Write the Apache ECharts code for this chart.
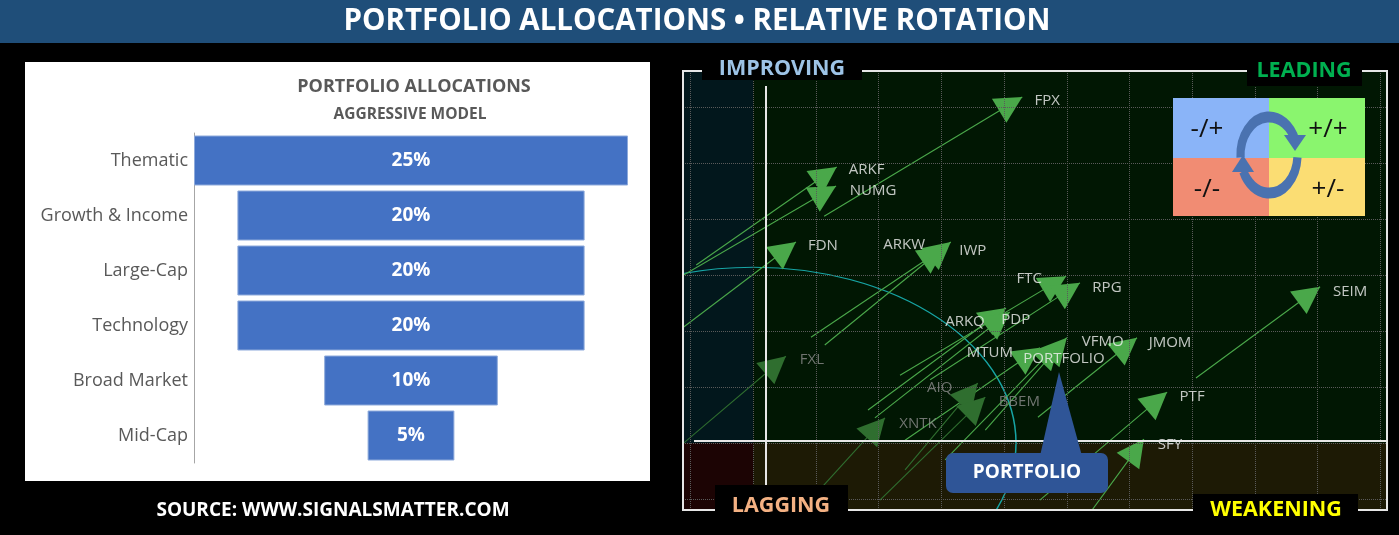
<!DOCTYPE html>
<html>
<head>
<meta charset="utf-8">
<script src="https://cdn.jsdelivr.net/npm/echarts@6/dist/echarts.min.js"></script>
<style>
  html, body { margin: 0; padding: 0; background: #000; }
  #chart { width: 1399px; height: 535px; }
</style>
</head>
<body>
<div id="chart"></div>
<script>
// allocation funnel (left panel)
const allocCategories = ['Thematic', 'Growth & Income', 'Large-Cap', 'Technology', 'Broad Market', 'Mid-Cap'];
const allocValues = [25, 20, 20, 20, 10, 5];

// relative rotation graph (right panel): tail start and head of each arrow, [RS-Ratio, RS-Momentum]
const rrgNames = ['FPX', 'ARKF', 'NUMG', 'FDN', 'ARKW', 'IWP', 'FTC', 'RPG', 'SEIM', 'ARKQ', 'PDP',
  'MTUM', 'PORTFOLIO', 'VFMO', 'JMOM', 'FXL', 'AIQ', 'BBEM', 'XNTK', 'PTF', 'SFY'];
const rrgTails = [
  [101.13, 104.05], [99.09, 103.18], [98.51, 102.75], [98.51, 101.75], [100.92, 101.89], [101.14, 101.75],
  [102.34, 101.21], [102.82, 101.13], [107.06, 101.16], [101.83, 100.59], [101.94, 100.45],
  [102.42, 100.05], [103.06, 99.70], [103.70, 100.23], [104.54, 100.46], [98.67, 99.79],
  [102.42, 99.52], [102.02, 98.98], [100.98, 99.07], [104.57, 98.98], [105.29, 98.63]
];
const rrgHeads = [
  [104.29, 106.18], [101.33, 104.93], [101.32, 104.59], [100.68, 103.59], [103.06, 103.50], [103.15, 103.59],
  [104.99, 102.98], [105.21, 102.86], [109.04, 102.79], [104.03, 102.41], [104.09, 102.34],
  [104.57, 101.70], [104.89, 101.80], [105.00, 101.88], [106.12, 101.88], [100.52, 101.55],
  [103.58, 101.07], [103.70, 100.82], [102.10, 100.45], [106.60, 100.91], [106.23, 100.07]
];
const fadedNames = ['FXL', 'AIQ', 'BBEM', 'XNTK'];
const rrgCenter = [100, 100];
const rotationRadius = [4.19, 3.14];
const xTicks = [99, 100, 101, 102, 103, 104, 105, 106, 107, 108, 109, 110];
const yTicks = [99, 100, 101, 102, 103, 104, 105, 106];

// label placement relative to arrow tip (px)
const labelOffsets = {
  FPX: [25, 4], ARKF: [30, 3], NUMG: [37, 5], FDN: [27, 4], ARKW: [-41, -2], IWP: [22, 9],
  FTC: [-37, 3], RPG: [27, 5], SEIM: [30, 5], ARKQ: [-41, 14], PDP: [6, 8], MTUM: [-50, 5],
  PORTFOLIO: [4, 17], VFMO: [36, 4], JMOM: [33, 5], FXL: [26, 4], AIQ: [-38, 5], BBEM: [34, 5],
  XNTK: [33, 6], PTF: [25, 5], SFY: [26, 6]
};

const FONT = 'Open Sans';
const xMin = 98.879, xMax = 110.107, yMin = 98.804, yMax = 106.643;
// arrow head: tip sits at the symbol centre, square bounding box so nothing gets stretched
const headPath = 'path://M0,0 L14,27 L-14,27 Z M-27,-27 L-27,-27 M27,27 L27,27';

function label(x, y, text, fill, font, z) {
  return { type: 'text', z: z || 22, x: x, y: y, style: { text: text, fill: fill, font: font, textAlign: 'center', textVerticalAlign: 'middle' } };
}

// rotation key, top-left corner at (1173, 98)
const keyX = 1173, keyY = 98;
const keyGraphics = [
  { type: 'rect', z: 30, shape: { x: keyX, y: keyY, width: 96, height: 60 }, style: { fill: '#8ab4f8' } },
  { type: 'rect', z: 30, shape: { x: keyX + 96, y: keyY, width: 96, height: 60 }, style: { fill: '#8af56e' } },
  { type: 'rect', z: 30, shape: { x: keyX, y: keyY + 60, width: 96, height: 58 }, style: { fill: '#f18c73' } },
  { type: 'rect', z: 30, shape: { x: keyX + 96, y: keyY + 60, width: 96, height: 58 }, style: { fill: '#fbdd73' } },
  label(keyX + 34, keyY + 32, '-/+', '#111', '26px "Open Sans"', 31),
  label(keyX + 155, keyY + 32, '+/+', '#111', '26px "Open Sans"', 31),
  label(keyX + 34, keyY + 92, '-/-', '#111', '26px "Open Sans"', 31),
  label(keyX + 155, keyY + 92, '+/-', '#111', '26px "Open Sans"', 31),
  { type: 'arc', z: 32, x: keyX + 96, y: keyY + 57, scaleX: 0.75,
    shape: { cx: 0, cy: 0, r: 38, startAngle: Math.PI * 0.98, endAngle: Math.PI * 1.88, clockwise: true },
    style: { stroke: '#4a72b0', lineWidth: 11, fill: 'none' } },
  { type: 'arc', z: 32, x: keyX + 96, y: keyY + 57, scaleX: 0.75,
    shape: { cx: 0, cy: 0, r: 38, startAngle: Math.PI * 0.02, endAngle: Math.PI * 0.86, clockwise: true },
    style: { stroke: '#4a72b0', lineWidth: 11, fill: 'none' } },
  { type: 'polygon', z: 32, shape: { points: [[keyX + 122, keyY + 53], [keyX + 111, keyY + 37], [keyX + 133, keyY + 37]] }, style: { fill: '#4a72b0' } },
  { type: 'polygon', z: 32, shape: { points: [[keyX + 70, keyY + 57], [keyX + 59, keyY + 74], [keyX + 81, keyY + 74]] }, style: { fill: '#4a72b0' } }
];

const chart = echarts.init(document.getElementById('chart'));

const option = {
  backgroundColor: '#000',
  animation: false,
  textStyle: { fontFamily: FONT },
  grid: [
    { left: 194, top: 133, width: 434, height: 330 },
    { left: 683, top: 71, width: 704, height: 439 }
  ],
  xAxis: [
    { gridIndex: 0, type: 'value', min: 0, max: 25, show: false },
    { gridIndex: 1, type: 'value', min: xMin, max: xMax, show: false }
  ],
  yAxis: [
    {
      gridIndex: 0, type: 'category', inverse: true, data: allocCategories,
      axisLine: { show: true, lineStyle: { color: '#a6a6a6', width: 1 } },
      axisTick: { show: false },
      axisLabel: { color: '#595959', fontSize: 18, margin: 6, fontFamily: FONT }
    },
    { gridIndex: 1, type: 'value', min: yMin, max: yMax, show: false }
  ],
  graphic: [
    // title bar
    { type: 'rect', z: 0, shape: { x: 0, y: 0, width: 1399, height: 43 }, style: { fill: '#1f4e79' } },
    label(697, 22, 'PORTFOLIO ALLOCATIONS • RELATIVE ROTATION', '#fff', 'bold 29.5px "Open Sans"', 1),
    // left panel
    { type: 'rect', z: 0, shape: { x: 25, y: 62, width: 625, height: 419 }, style: { fill: '#fff' } },
    label(414, 87, 'PORTFOLIO ALLOCATIONS', '#595959', 'bold 18px "Open Sans"', 1),
    label(410, 115, 'AGGRESSIVE MODEL', '#595959', 'bold 15.5px "Open Sans"', 1),
    label(333, 511, 'SOURCE: WWW.SIGNALSMATTER.COM', '#fff', 'bold 19px "Open Sans"', 1),
    // rrg frame and quadrant dividers
    { type: 'rect', z: 20, shape: { x: 683, y: 71, width: 704, height: 439 }, style: { fill: 'none', stroke: '#e6e6e6', lineWidth: 2 } },
    { type: 'line', z: 20, shape: { x1: 766, y1: 86, x2: 766, y2: 487 }, style: { stroke: '#e6e6e6', lineWidth: 2 } },
    { type: 'line', z: 20, shape: { x1: 694, y1: 441, x2: 1387, y2: 441 }, style: { stroke: '#e6e6e6', lineWidth: 2 } },
    // quadrant tags
    { type: 'rect', z: 21, shape: { x: 702, y: 55, width: 160, height: 25 }, style: { fill: '#000' } },
    label(782, 69, 'IMPROVING', '#9dc3e6', 'bold 21.5px "Open Sans"'),
    { type: 'rect', z: 21, shape: { x: 1247, y: 56, width: 115, height: 30 }, style: { fill: '#000' } },
    label(1304, 71, 'LEADING', '#00b050', 'bold 21.5px "Open Sans"'),
    { type: 'rect', z: 21, shape: { x: 715, y: 485, width: 133, height: 45 }, style: { fill: '#000' } },
    label(781, 506, 'LAGGING', '#f4b183', 'bold 21.5px "Open Sans"'),
    { type: 'rect', z: 21, shape: { x: 1193, y: 494, width: 165, height: 36 }, style: { fill: '#000' } },
    label(1276, 510, 'WEAKENING', '#ffff00', 'bold 21.5px "Open Sans"'),
    // portfolio callout
    { type: 'polygon', z: 24, shape: { points: [[1059, 372], [1040, 456], [1082, 456]] }, style: { fill: '#2f5597' } },
    { type: 'rect', z: 24, shape: { x: 946, y: 453, width: 162, height: 40, r: 7 }, style: { fill: '#2f5597' } },
    label(1027, 473, 'PORTFOLIO', '#fff', 'bold 19px "Open Sans"', 25)
  ].concat(keyGraphics),
  series: [
    {
      type: 'bar', xAxisIndex: 0, yAxisIndex: 0, stack: 'alloc', silent: true, barWidth: 50,
      itemStyle: { color: 'transparent' },
      data: allocValues.map(v => (25 - v) / 2)
    },
    {
      type: 'bar', xAxisIndex: 0, yAxisIndex: 0, stack: 'alloc', barWidth: 50,
      itemStyle: { color: '#4472c4', borderColor: '#8eaadb', borderWidth: 1 },
      label: { show: true, position: 'inside', formatter: '{c}%', color: '#fff', fontWeight: 'bold', fontSize: 19, fontFamily: FONT },
      data: allocValues
    },
    {
      // quadrant shading
      type: 'scatter', xAxisIndex: 1, yAxisIndex: 1, z: 1, silent: true, symbolSize: 0,
      data: [rrgCenter],
      markArea: {
        silent: true,
        data: [
          [{ coord: [xMin, rrgCenter[1]], itemStyle: { color: '#02171c' } }, { coord: [rrgCenter[0], yMax] }],
          [{ coord: [rrgCenter[0], rrgCenter[1]], itemStyle: { color: '#011703' } }, { coord: [xMax, yMax] }],
          [{ coord: [xMin, yMin], itemStyle: { color: '#1c0404' } }, { coord: [rrgCenter[0], rrgCenter[1]] }],
          [{ coord: [rrgCenter[0], yMin], itemStyle: { color: '#1d1a05' } }, { coord: [xMax, rrgCenter[1]] }]
        ]
      }
    },
    {
      // grid lines
      type: 'scatter', xAxisIndex: 1, yAxisIndex: 1, z: 2, silent: true, symbolSize: 0,
      data: [rrgCenter],
      markLine: {
        silent: true, symbol: 'none', label: { show: false },
        lineStyle: { color: '#5a5a5a', type: 'dotted', width: 1 },
        data: xTicks.map(v => ({ xAxis: v })).concat(yTicks.map(v => ({ yAxis: v })))
      }
    },
    {
      // rotation ellipse
      type: 'custom', xAxisIndex: 1, yAxisIndex: 1, z: 3, clip: true, silent: true,
      data: [[rrgCenter[0], rrgCenter[1], rotationRadius[0], rotationRadius[1]]],
      renderItem: function (params, api) {
        const c = api.coord([api.value(0), api.value(1)]);
        const s = api.size([api.value(2), api.value(3)]);
        return {
          type: 'circle', x: c[0], y: c[1], scaleY: s[1] / s[0],
          shape: { cx: 0, cy: 0, r: s[0] },
          style: { fill: 'none', stroke: '#17a5a5', lineWidth: 1.5, strokeNoScale: true }
        };
      }
    },
    {
      type: 'lines', coordinateSystem: 'cartesian2d', xAxisIndex: 1, yAxisIndex: 1, z: 4, clip: true,
      symbol: ['none', headPath], symbolSize: [0, 54],
      data: rrgNames.map((n, i) => ({
        coords: [rrgTails[i], rrgHeads[i]],
        lineStyle: { color: fadedNames.includes(n) ? '#2f6e2f' : '#4aa84a', width: 1.1, opacity: 1 }
      }))
    },
    {
      type: 'scatter', xAxisIndex: 1, yAxisIndex: 1, z: 5, symbolSize: 0, silent: true,
      data: rrgNames.map((n, i) => ({
        name: n, value: rrgHeads[i],
        label: { offset: labelOffsets[n], color: fadedNames.includes(n) ? '#8c8c8c' : '#f2f2f2' }
      })),
      label: { show: true, position: 'inside', formatter: '{b}', fontSize: 15, fontFamily: FONT }
    }
  ]
};

chart.setOption(option);
window.addEventListener('resize', () => chart.resize());
</script>
</body>
</html>
